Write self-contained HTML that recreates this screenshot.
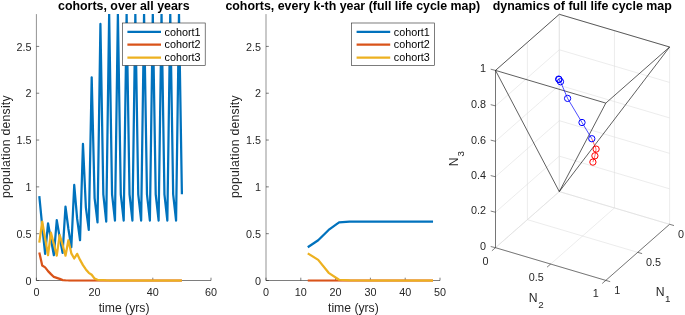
<!DOCTYPE html>
<html><head><meta charset="utf-8"><title>cohorts</title>
<style>
html,body{margin:0;padding:0;background:#fff;}
body{width:685px;height:315px;overflow:hidden;}
svg{display:block;font-family:"Liberation Sans",sans-serif;will-change:transform;opacity:0.999;}
</style></head><body>
<svg width="685" height="315" viewBox="0 0 685 315">
<rect width="685" height="315" fill="#fff"/>
<clipPath id="clip1"><rect x="36.4" y="14.1" width="176.6" height="267.59999999999997"/></clipPath>
<g stroke="#262626" stroke-width="0.6" fill="none">
<path d="M36.4 14.1V280.5" stroke-width="0.5"/><path d="M36.4 280.5H211" stroke-width="0.6"/>
<path d="M36.4 280.5v-2.8"/>
<path d="M94.6 280.5v-2.8"/>
<path d="M152.8 280.5v-2.8"/>
<path d="M211 280.5v-2.8"/>
<path d="M36.4 280.5h2.8"/>
<path d="M36.4 233.68h2.8"/>
<path d="M36.4 186.86h2.8"/>
<path d="M36.4 140.04h2.8"/>
<path d="M36.4 93.22h2.8"/>
<path d="M36.4 46.41h2.8"/>
</g>
<g clip-path="url(#clip1)" fill="none" stroke-width="2.25" stroke-linejoin="round" stroke-linecap="butt">
<polyline points="39.31,196.23 42.22,226.19 45.13,253.81 48.04,223.38 50.95,239.3 53.86,255.22 56.77,220.1 59.68,237.43 62.59,252.88 65.5,206.53 68.41,229 71.32,247.26 74.23,184.99 77.14,218.7 80.05,240.24 82.96,143.79 85.87,207.46 88.78,229.94 91.69,77.31 94.6,198.1 97.51,222.44 100.42,23.93 103.33,194.35 106.24,221.51 109.15,14.1 112.06,194.35 114.97,220.57 117.88,14.1 120.79,194.35 123.7,220.57 126.61,14.1 129.52,194.35 132.43,220.57 135.34,14.1 138.25,194.35 141.16,220.57 144.07,14.1 146.98,194.35 149.89,220.57 152.8,14.1 155.71,194.35 158.62,220.57 161.53,14.1 164.44,194.35 167.35,220.57 170.26,14.1 173.17,194.35 176.08,220.57 178.99,14.1 181.9,194.35" stroke="#0072BD"/>
<polyline points="39.31,252.41 42.22,265.52 45.13,267.39 48.04,271.14 50.95,274.13 53.86,276.94 56.77,277.88 59.68,278.81 62.59,280.13 65.5,280.41 68.41,280.5 71.32,280.5 74.23,280.5 77.14,280.5 80.05,280.5 82.96,280.5 85.87,280.5 88.78,280.5 91.69,280.5 94.6,280.5 97.51,280.5 100.42,280.5 103.33,280.5 106.24,280.5 109.15,280.5 112.06,280.5 114.97,280.5 117.88,280.5 120.79,280.5 123.7,280.5 126.61,280.5 129.52,280.5 132.43,280.5 135.34,280.5 138.25,280.5 141.16,280.5 144.07,280.5 146.98,280.5 149.89,280.5 152.8,280.5 155.71,280.5 158.62,280.5 161.53,280.5 164.44,280.5 167.35,280.5 170.26,280.5 173.17,280.5 176.08,280.5 178.99,280.5 181.9,280.5" stroke="#D95319"/>
<polyline points="39.31,242.58 42.22,221.51 45.13,238.36 48.04,255.22 50.95,232.74 53.86,243.98 56.77,255.69 59.68,235.09 62.59,244.92 65.5,255.69 68.41,240.24 71.32,253.34 74.23,258.5 77.14,253.81 80.05,259.9 82.96,265.14 85.87,269.45 88.78,272.82 91.69,274.79 94.6,278.63 97.51,279.75 100.42,280.03 103.33,280.22 106.24,280.41 109.15,280.5 112.06,280.5 114.97,280.5 117.88,280.5 120.79,280.5 123.7,280.5 126.61,280.5 129.52,280.5 132.43,280.5 135.34,280.5 138.25,280.5 141.16,280.5 144.07,280.5 146.98,280.5 149.89,280.5 152.8,280.5 155.71,280.5 158.62,280.5 161.53,280.5 164.44,280.5 167.35,280.5 170.26,280.5 173.17,280.5 176.08,280.5 178.99,280.5 181.9,280.5" stroke="#EDB120"/>
</g>
<g font-size="10.8" fill="#262626">
<text x="36.4" y="295.5" text-anchor="middle">0</text>
<text x="94.6" y="295.5" text-anchor="middle">20</text>
<text x="152.8" y="295.5" text-anchor="middle">40</text>
<text x="211" y="295.5" text-anchor="middle">60</text>
<text x="31.4" y="284.6" text-anchor="end">0</text>
<text x="31.4" y="237.78" text-anchor="end">0.5</text>
<text x="31.4" y="190.96" text-anchor="end">1</text>
<text x="31.4" y="144.14" text-anchor="end">1.5</text>
<text x="31.4" y="97.32" text-anchor="end">2</text>
<text x="31.4" y="50.51" text-anchor="end">2.5</text>
</g>
<text x="124.1" y="311.6" text-anchor="middle" font-size="12.2" fill="#262626">time (yrs)</text>
<text transform="translate(9.7,146.6) rotate(-90)" text-anchor="middle" font-size="12.2" letter-spacing="0.26" fill="#262626">population density</text>
<text x="123.8" y="9.9" text-anchor="middle" font-size="12.4" font-weight="bold" fill="#000">cohorts, over all years</text>
<rect x="122.4" y="23.0" width="82.8" height="42.5" fill="#fff" stroke="#262626" stroke-width="0.6"/>
<path d="M127.4 31.8h33.6" stroke="#0072BD" stroke-width="2.25" fill="none"/>
<text x="164.60000000000002" y="35.5" font-size="10.8" fill="#000">cohort1</text>
<path d="M127.4 44.7h33.6" stroke="#D95319" stroke-width="2.25" fill="none"/>
<text x="164.60000000000002" y="48.4" font-size="10.8" fill="#000">cohort2</text>
<path d="M127.4 57.6h33.6" stroke="#EDB120" stroke-width="2.25" fill="none"/>
<text x="164.60000000000002" y="61.3" font-size="10.8" fill="#000">cohort3</text>
<clipPath id="clip2"><rect x="266" y="14.1" width="176" height="267.59999999999997"/></clipPath>
<g stroke="#262626" stroke-width="0.6" fill="none">
<path d="M266 14.1V280.5" stroke-width="0.5"/><path d="M266 280.5H440" stroke-width="0.6"/>
<path d="M266 280.5v-2.8"/>
<path d="M300.8 280.5v-2.8"/>
<path d="M335.6 280.5v-2.8"/>
<path d="M370.4 280.5v-2.8"/>
<path d="M405.2 280.5v-2.8"/>
<path d="M440 280.5v-2.8"/>
<path d="M266 280.5h2.8"/>
<path d="M266 233.68h2.8"/>
<path d="M266 186.86h2.8"/>
<path d="M266 140.04h2.8"/>
<path d="M266 93.22h2.8"/>
<path d="M266 46.41h2.8"/>
</g>
<g clip-path="url(#clip2)" fill="none" stroke-width="2.25" stroke-linejoin="round" stroke-linecap="butt">
<polyline points="307.76,247.26 318.2,240.24 328.64,229.94 339.08,222.44 349.52,221.51 359.96,221.51 370.4,221.51 380.84,221.51 391.28,221.51 401.72,221.51 412.16,221.51 422.6,221.51 433.04,221.51" stroke="#0072BD"/>
<polyline points="307.76,280.5 318.2,280.5 328.64,280.5 339.08,280.5 349.52,280.5 359.96,280.5 370.4,280.5 380.84,280.5 391.28,280.5 401.72,280.5 412.16,280.5 422.6,280.5 433.04,280.5" stroke="#D95319"/>
<polyline points="307.76,253.34 318.2,259.9 328.64,272.82 339.08,279.75 349.52,280.41 359.96,280.5 370.4,280.5 380.84,280.5 391.28,280.5 401.72,280.5 412.16,280.5 422.6,280.5 433.04,280.5" stroke="#EDB120"/>
</g>
<g font-size="10.8" fill="#262626">
<text x="266" y="295.5" text-anchor="middle">0</text>
<text x="300.8" y="295.5" text-anchor="middle">10</text>
<text x="335.6" y="295.5" text-anchor="middle">20</text>
<text x="370.4" y="295.5" text-anchor="middle">30</text>
<text x="405.2" y="295.5" text-anchor="middle">40</text>
<text x="440" y="295.5" text-anchor="middle">50</text>
<text x="261" y="284.6" text-anchor="end">0</text>
<text x="261" y="237.78" text-anchor="end">0.5</text>
<text x="261" y="190.96" text-anchor="end">1</text>
<text x="261" y="144.14" text-anchor="end">1.5</text>
<text x="261" y="97.32" text-anchor="end">2</text>
<text x="261" y="50.51" text-anchor="end">2.5</text>
</g>
<text x="353.4" y="311.6" text-anchor="middle" font-size="12.2" fill="#262626">time (yrs)</text>
<text transform="translate(239.3,146.6) rotate(-90)" text-anchor="middle" font-size="12.2" letter-spacing="0.26" fill="#262626">population density</text>
<text x="352.8" y="9.9" text-anchor="middle" font-size="12.4" font-weight="bold" fill="#000">cohorts, every k-th year (full life cycle map)</text>
<rect x="351.6" y="23.0" width="82.8" height="42.5" fill="#fff" stroke="#262626" stroke-width="0.6"/>
<path d="M356.6 31.8h33.6" stroke="#0072BD" stroke-width="2.25" fill="none"/>
<text x="393.8" y="35.5" font-size="10.8" fill="#000">cohort1</text>
<path d="M356.6 44.7h33.6" stroke="#D95319" stroke-width="2.25" fill="none"/>
<text x="393.8" y="48.4" font-size="10.8" fill="#000">cohort2</text>
<path d="M356.6 57.6h33.6" stroke="#EDB120" stroke-width="2.25" fill="none"/>
<text x="393.8" y="61.3" font-size="10.8" fill="#000">cohort3</text>
<path d="M495.5 247.7L559.3 191.6M559.3 191.6L669.6 224.3M495.5 212.24L559.3 156.14M559.3 156.14L669.6 188.84M495.5 176.78L559.3 120.68M559.3 120.68L669.6 153.38M495.5 141.32L559.3 85.22M559.3 85.22L669.6 117.92M495.5 105.86L559.3 49.76M559.3 49.76L669.6 82.46M495.5 70.4L559.3 14.3M559.3 14.3L669.6 47M559.3 191.6L559.3 14.3M559.3 191.6L559.3 14.3M559.3 191.6L669.6 224.3M559.3 191.6L495.5 247.7M527.4 219.65L527.4 42.35M614.45 207.95L614.45 30.65M527.4 219.65L637.7 252.35M614.45 207.95L550.65 264.05M495.5 247.7L495.5 70.4M669.6 224.3L669.6 47M495.5 247.7L605.8 280.4M669.6 224.3L605.8 280.4" stroke="#dcdcdc" stroke-width="0.55" fill="none"/>
<path d="M495.5 247.7L495.5 70.4M495.5 247.7L605.8 280.4M605.8 280.4L669.6 224.3M495.5 247.7L490.7 246.5M495.5 212.24L490.7 211.04M495.5 176.78L490.7 175.58M495.5 141.32L490.7 140.12M495.5 105.86L490.7 104.66M495.5 70.4L490.7 69.2M495.5 247.7L491.9 250.8M669.6 224.3L674 225.55M550.65 264.05L547.05 267.15M637.7 252.35L642.1 253.6M605.8 280.4L602.2 283.5M605.8 280.4L610.2 281.65" stroke="#262626" stroke-width="0.6" fill="none"/>
<path d="M495.5 70.4L559.3 14.3M559.3 14.3L669.6 47M669.6 47L605.8 103.1M605.8 103.1L495.5 70.4M559.3 191.6L495.5 70.4M559.3 191.6L605.8 103.1M559.3 191.6L669.6 47" stroke="#1a1a1a" stroke-width="0.7" fill="none"/>
<polyline points="592.9,162.1 594.9,155.8 596.1,149.1 591.8,138.7" stroke="#f00" stroke-width="0.6" fill="none"/>
<polyline points="591.8,138.7 582,122.5 567.6,98.4 560.5,81.7 559.0,79.5 558.7,79.1" stroke="#00f" stroke-width="0.7" fill="none"/>
<circle cx="592.9" cy="162.1" r="3.15" stroke="#f00" stroke-width="1.0" fill="none"/>
<circle cx="594.9" cy="155.8" r="3.15" stroke="#f00" stroke-width="1.0" fill="none"/>
<circle cx="596.1" cy="149.1" r="3.15" stroke="#f00" stroke-width="1.0" fill="none"/>
<circle cx="591.8" cy="138.7" r="3.15" stroke="#00f" stroke-width="1.0" fill="none"/>
<circle cx="582" cy="122.5" r="3.15" stroke="#00f" stroke-width="1.0" fill="none"/>
<circle cx="567.6" cy="98.4" r="3.15" stroke="#00f" stroke-width="1.0" fill="none"/>
<circle cx="560.5" cy="81.7" r="3.15" stroke="#00f" stroke-width="1.0" fill="none"/>
<circle cx="559.0" cy="79.5" r="3.15" stroke="#00f" stroke-width="1.0" fill="none"/>
<circle cx="558.7" cy="79.1" r="3.15" stroke="#00f" stroke-width="1.0" fill="none"/>
<g font-size="10.8" fill="#262626">
<text x="486" y="249.9" text-anchor="end">0</text>
<text x="486" y="214.44" text-anchor="end">0.2</text>
<text x="486" y="178.98" text-anchor="end">0.4</text>
<text x="486" y="143.52" text-anchor="end">0.6</text>
<text x="486" y="108.06" text-anchor="end">0.8</text>
<text x="486" y="72" text-anchor="end">1</text>
<text x="488.5" y="264.7" text-anchor="end">0</text>
<text x="678" y="237.9" text-anchor="start">0</text>
<text x="543.65" y="281.05" text-anchor="end">0.5</text>
<text x="646.1" y="265.95" text-anchor="start">0.5</text>
<text x="598.8" y="297.4" text-anchor="end">1</text>
<text x="614.2" y="294" text-anchor="start">1</text>
</g>
<text transform="translate(458.2,166.2) rotate(-90)" font-size="12.2" fill="#262626">N<tspan font-size="9.8" dx="0.8" dy="6">3</tspan></text>
<text x="528.8" y="302.2" font-size="12.2" fill="#262626">N<tspan font-size="9.8" dx="0.6" dy="6.2">2</tspan></text>
<text x="655.7" y="296.0" font-size="12.2" fill="#262626">N<tspan font-size="9.8" dx="0.6" dy="5.8">1</tspan></text>
<text x="582.2" y="9.9" text-anchor="middle" font-size="12.4" font-weight="bold" fill="#000">dynamics of full life cycle map</text>
</svg>
</body></html>
